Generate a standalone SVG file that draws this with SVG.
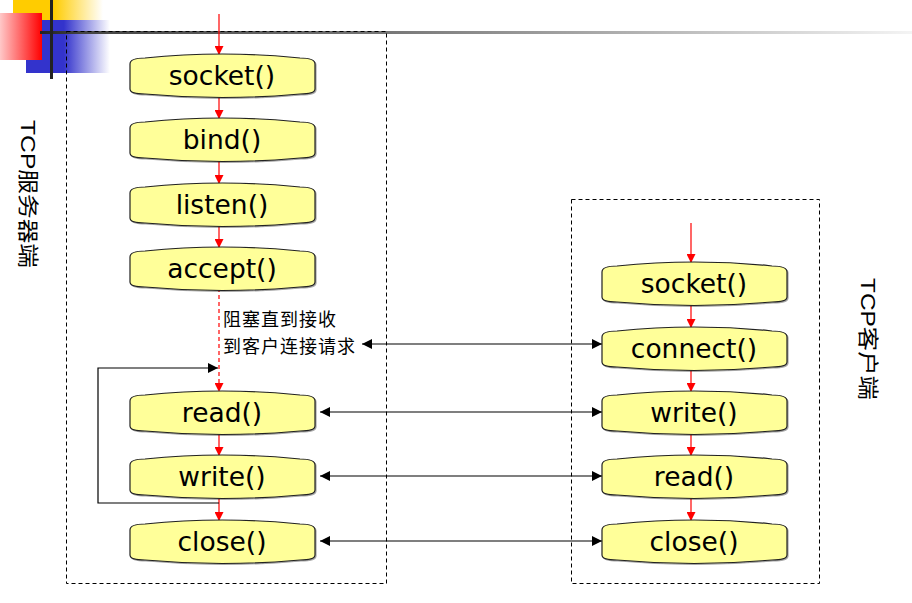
<svg xmlns="http://www.w3.org/2000/svg" width="912" height="603" viewBox="0 0 912 603">
<style>
.node path{fill:#FFFF99;stroke:#222;stroke-width:1.2;filter:url(#sh)}
.node text{font-family:"DejaVu Sans","Liberation Sans",sans-serif;font-size:26.5px;fill:#000;text-anchor:middle}
.box{fill:none;stroke:#000;stroke-width:1;stroke-dasharray:4,3}
.red{stroke:#FF0000;stroke-width:1.2;fill:none}
.blk{stroke:#000;stroke-width:1.2;fill:none}
.lbl{font-family:"Liberation Sans","Noto Sans CJK SC",sans-serif;font-size:21px;fill:#000}
.cn{font-family:"Noto Sans CJK SC",sans-serif;font-size:18px;letter-spacing:1px;fill:#000}
</style>
<defs>
<linearGradient id="gy" x1="0" x2="1" y1="0" y2="0"><stop offset="0" stop-color="#FFCC00"/><stop offset="0.45" stop-color="#FFCC00"/><stop offset="1" stop-color="#FFFFFF"/></linearGradient>
<linearGradient id="gb" x1="0" x2="1" y1="0" y2="0"><stop offset="0" stop-color="#3333CC"/><stop offset="0.45" stop-color="#3333CC"/><stop offset="1" stop-color="#FFFFFF"/></linearGradient>
<linearGradient id="gr" x1="0" x2="1" y1="0" y2="0"><stop offset="0" stop-color="#FFC8C8"/><stop offset="1" stop-color="#FF0000"/></linearGradient>
<linearGradient id="gl" x1="0" x2="1" y1="0" y2="0"><stop offset="0" stop-color="#222"/><stop offset="0.05" stop-color="#444"/><stop offset="0.4" stop-color="#777"/><stop offset="1" stop-color="#F4F4F4"/></linearGradient>
<filter id="sh" x="-5%" y="-20%" width="110%" height="140%"><feDropShadow dx="1" dy="1" stdDeviation="0.6" flood-color="#000" flood-opacity="0.35"/></filter>
<marker id="ar" viewBox="0 0 10 10" refX="10" refY="5" markerWidth="9" markerHeight="9" markerUnits="userSpaceOnUse" orient="auto-start-reverse"><path d="M0,0 L10,5 L0,10 Z" fill="#FF0000"/></marker>
<marker id="ab" viewBox="0 0 10 10" refX="10" refY="5" markerWidth="10" markerHeight="10" markerUnits="userSpaceOnUse" orient="auto-start-reverse"><path d="M0,0 L10,5 L0,10 Z" fill="#000"/></marker>
</defs>
<g id="decor">
<rect x="13" y="0" width="90" height="20" fill="url(#gy)"/>
<rect x="26" y="20" width="84" height="53" fill="url(#gb)"/>
<rect x="0" y="13" width="42" height="47" fill="url(#gr)"/>
<rect x="40" y="31" width="872" height="3" fill="url(#gl)"/>
<rect x="50" y="0" width="3" height="79" fill="#222"/>
</g>
<rect class="box" x="66.5" y="31.5" width="320" height="552"/>
<rect class="box" x="571.5" y="199.5" width="248" height="384"/>
<text class="lbl" transform="translate(21,120) rotate(90)" textLength="148" lengthAdjust="spacingAndGlyphs">TCP服务器端</text>
<text class="lbl" transform="translate(861,278) rotate(90)" textLength="122" lengthAdjust="spacingAndGlyphs">TCP客户端</text>
<g id="connectors">
<line class="red" x1="219" y1="14" x2="219" y2="55" marker-end="url(#ar)"/>
<line class="red" x1="219" y1="95" x2="219" y2="119" marker-end="url(#ar)"/>
<line class="red" x1="219" y1="159" x2="219" y2="184" marker-end="url(#ar)"/>
<line class="red" x1="219" y1="224" x2="219" y2="248" marker-end="url(#ar)"/>
<line class="red" x1="219" y1="288" x2="219" y2="392" stroke-dasharray="4,3" marker-end="url(#ar)"/>
<line class="red" x1="219" y1="432" x2="219" y2="456" marker-end="url(#ar)"/>
<line class="red" x1="219" y1="496" x2="219" y2="521" marker-end="url(#ar)"/>
<line class="red" x1="691" y1="223" x2="691" y2="263" marker-end="url(#ar)"/>
<line class="red" x1="691" y1="303" x2="691" y2="328" marker-end="url(#ar)"/>
<line class="red" x1="691" y1="368" x2="691" y2="392" marker-end="url(#ar)"/>
<line class="red" x1="691" y1="432" x2="691" y2="456" marker-end="url(#ar)"/>
<line class="red" x1="691" y1="496" x2="691" y2="521" marker-end="url(#ar)"/>
<polyline class="blk" points="219,503 98,503 98,368 218,368" marker-end="url(#ab)"/>
<line class="blk" x1="362" y1="344" x2="602" y2="344" marker-start="url(#ab)" marker-end="url(#ab)"/>
<line class="blk" x1="320" y1="412" x2="602" y2="412" marker-start="url(#ab)" marker-end="url(#ab)"/>
<line class="blk" x1="320" y1="476" x2="602" y2="476" marker-start="url(#ab)" marker-end="url(#ab)"/>
<line class="blk" x1="320" y1="541" x2="602" y2="541" marker-start="url(#ab)" marker-end="url(#ab)"/>
</g>
<text class="cn" x="223" y="326"><tspan x="223" y="326">阻塞直到接收</tspan><tspan x="223" y="353">到客户连接请求</tspan></text>
<g id="s-socket" class="node"><path d="M130,64 Q130,58 145,58 Q222,50 300,58 Q315,58 315,64 L315,89 Q315,94 300,94 Q222,101 145,94 Q130,94 130,89 Z"/><text x="222" y="85">socket()</text></g>
<g id="s-bind" class="node"><path d="M130,128 Q130,122 145,122 Q222,114 300,122 Q315,122 315,128 L315,153 Q315,158 300,158 Q222,165 145,158 Q130,158 130,153 Z"/><text x="222" y="149">bind()</text></g>
<g id="s-listen" class="node"><path d="M130,193 Q130,187 145,187 Q222,179 300,187 Q315,187 315,193 L315,218 Q315,223 300,223 Q222,230 145,223 Q130,223 130,218 Z"/><text x="222" y="214">listen()</text></g>
<g id="s-accept" class="node"><path d="M130,257 Q130,251 145,251 Q222,243 300,251 Q315,251 315,257 L315,282 Q315,287 300,287 Q222,294 145,287 Q130,287 130,282 Z"/><text x="222" y="278">accept()</text></g>
<g id="s-read" class="node"><path d="M130,401 Q130,395 145,395 Q222,387 300,395 Q315,395 315,401 L315,426 Q315,431 300,431 Q222,438 145,431 Q130,431 130,426 Z"/><text x="222" y="422">read()</text></g>
<g id="s-write" class="node"><path d="M130,465 Q130,459 145,459 Q222,451 300,459 Q315,459 315,465 L315,490 Q315,495 300,495 Q222,502 145,495 Q130,495 130,490 Z"/><text x="222" y="486">write()</text></g>
<g id="s-close" class="node"><path d="M130,530 Q130,524 145,524 Q222,516 300,524 Q315,524 315,530 L315,555 Q315,560 300,560 Q222,567 145,560 Q130,560 130,555 Z"/><text x="222" y="551">close()</text></g>
<g id="c-socket" class="node"><path d="M602,272 Q602,266 617,266 Q694,258 772,266 Q787,266 787,272 L787,297 Q787,302 772,302 Q694,309 617,302 Q602,302 602,297 Z"/><text x="694" y="293">socket()</text></g>
<g id="c-connect" class="node"><path d="M602,337 Q602,331 617,331 Q694,323 772,331 Q787,331 787,337 L787,362 Q787,367 772,367 Q694,374 617,367 Q602,367 602,362 Z"/><text x="694" y="358">connect()</text></g>
<g id="c-write" class="node"><path d="M602,401 Q602,395 617,395 Q694,387 772,395 Q787,395 787,401 L787,426 Q787,431 772,431 Q694,438 617,431 Q602,431 602,426 Z"/><text x="694" y="422">write()</text></g>
<g id="c-read" class="node"><path d="M602,465 Q602,459 617,459 Q694,451 772,459 Q787,459 787,465 L787,490 Q787,495 772,495 Q694,502 617,495 Q602,495 602,490 Z"/><text x="694" y="486">read()</text></g>
<g id="c-close" class="node"><path d="M602,530 Q602,524 617,524 Q694,516 772,524 Q787,524 787,530 L787,555 Q787,560 772,560 Q694,567 617,560 Q602,560 602,555 Z"/><text x="694" y="551">close()</text></g>
</svg>
